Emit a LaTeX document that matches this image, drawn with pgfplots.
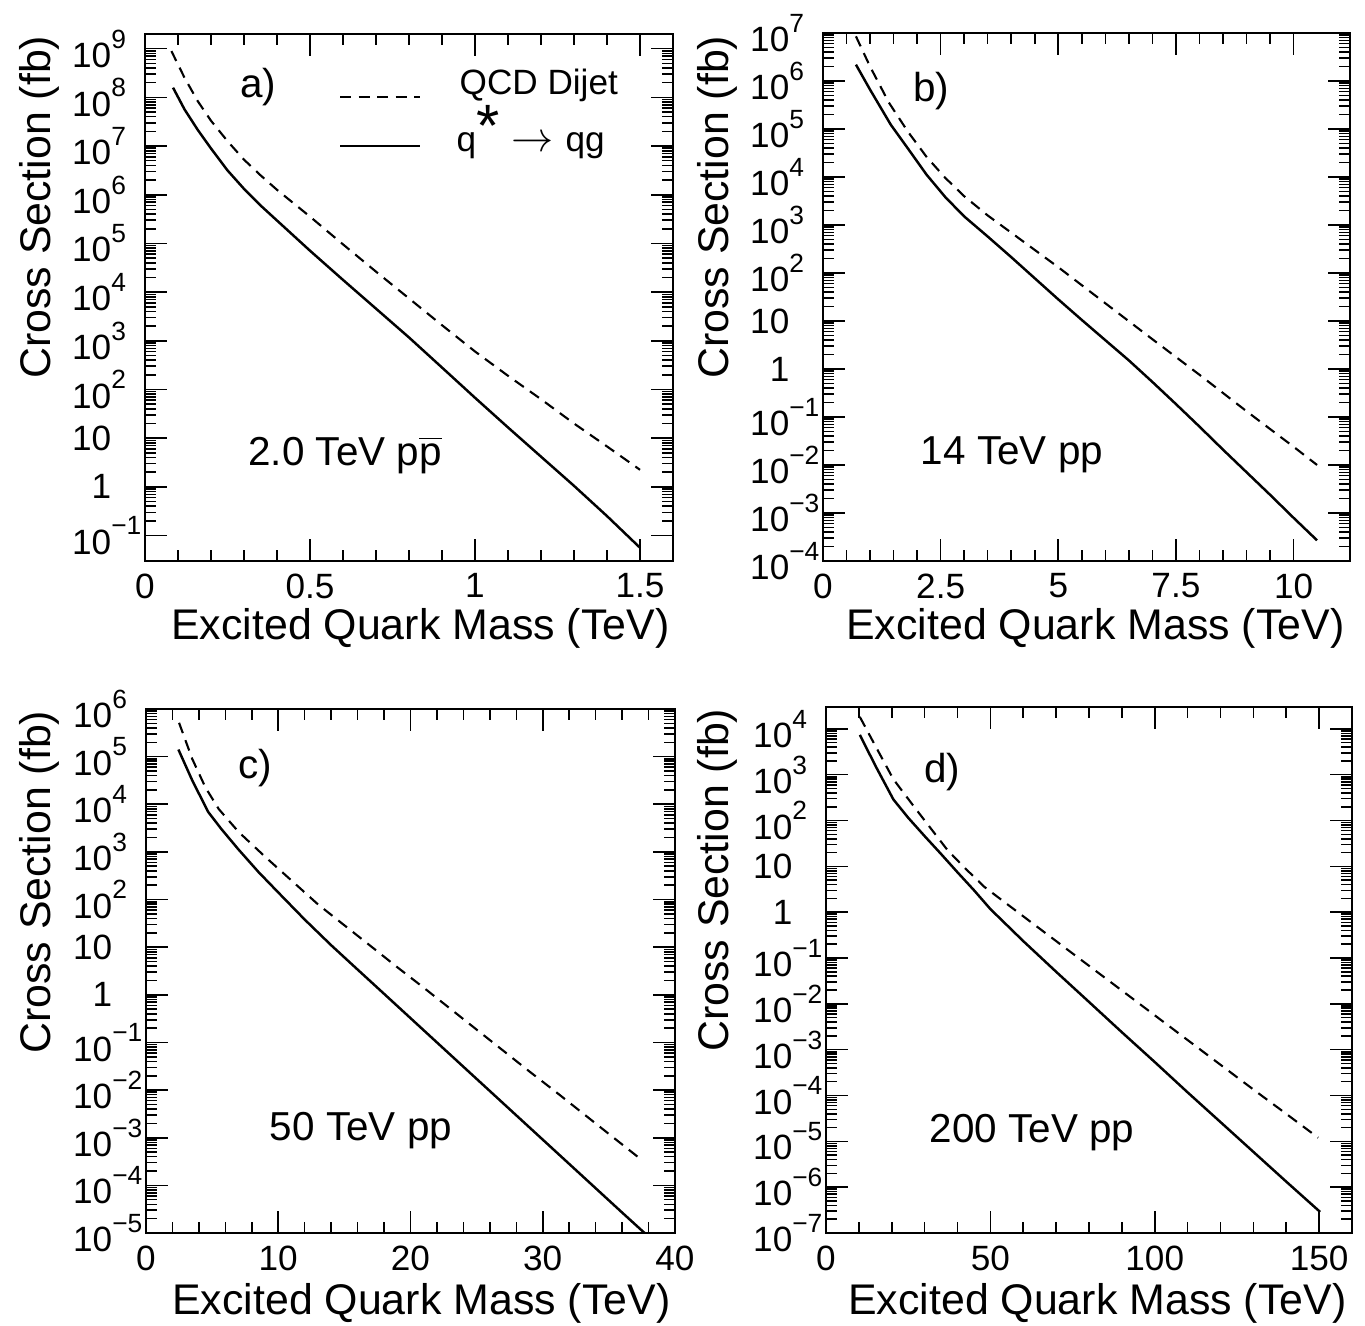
\documentclass[border=0pt]{standalone}
\usepackage{fontspec}
\setmainfont{Liberation Sans}
\usepackage{pgfplots}
\pgfplotsset{compat=1.18}

% 10^n label, superscript hangs to the right
\newcommand{\tp}[1]{10\rlap{\raisebox{0.55em}{\fontsize{7.5}{7.5}\selectfont #1}}}

\tikzset{
  qcd/.style={black, line width=0.6pt, dash pattern=on 0.11cm off 0.075cm},
  qs/.style={black, line width=0.7pt},
}
\pgfplotsset{
  panel/.style={
    scale only axis,
    axis line style={line width=0.75pt},
    every tick/.style={black, line width=0.45pt},
    tick align=inside,
    major tick length=0.22cm,
    minor tick length=0.11cm,
    minor x tick num=4,
    tick label style={font=\fontsize{10}{11}\selectfont},
    yticklabel style={anchor=east, inner sep=0pt, xshift=-0.33cm},
    xticklabel style={anchor=north, inner sep=0pt, yshift=-0.12cm},
  },
}

\begin{document}
\begin{tikzpicture}
\path[use as bounding box] (0,0) rectangle (13.65,-13.26);

% ---- a) 2.0 TeV ppbar
\begin{axis}[panel, ymode=log, anchor=north west, at={(1.45cm,-0.34cm)}, width=5.28cm, height=5.27cm,
  xmin=0, xmax=1.6, ymin=0.03, ymax=2e9,
  xtick={0,0.5,1,1.5}, xticklabels={0,0.5,1,1.5},
  ytick={1e-1,1,10,1e2,1e3,1e4,1e5,1e6,1e7,1e8,1e9},
  yticklabels={\tp{−1},1,10,\tp{2},\tp{3},\tp{4},\tp{5},\tp{6},\tp{7},\tp{8},\tp{9}}]
\addplot[qcd] coordinates {(0.08,8.91e8)(0.12,2.51e8)(0.16,8.32e7)(0.2,3.31e7)
  (0.25,1.26e7)(0.3,5.25e6)(0.35,2.51e6)(0.4,1.26e6)(0.5,3.55e5)(0.6,9.55e4)
  (0.7,2.63e4)(0.8,7.41e3)(0.9,2.09e3)(1.0,603)(1.1,191)(1.2,63.1)(1.3,20.0)
  (1.4,6.76)(1.5,2.24)};
\addplot[qs] coordinates {(0.085,1.58e8)(0.12,5.62e7)(0.16,2.14e7)(0.2,8.91e6)
  (0.25,3.16e6)(0.3,1.32e6)(0.35,6.03e5)(0.4,2.95e5)(0.5,7.08e4)(0.6,1.78e4)
  (0.7,4.57e3)(0.8,1.17e3)(0.9,282)(1.0,67.6)(1.1,16.6)(1.2,4.17)(1.3,1.05)
  (1.4,0.251)(1.5,0.0562)};
\end{axis}

% ---- b) 14 TeV pp
\begin{axis}[panel, ymode=log, anchor=north west, at={(8.23cm,-0.33cm)}, width=5.27cm, height=5.28cm,
  xmin=0, xmax=11.2, ymin=1e-4, ymax=1e7,
  xtick={0,2.5,5,7.5,10}, xticklabels={0,2.5,5,7.5,10},
  ytick={1e-4,1e-3,1e-2,1e-1,1,10,1e2,1e3,1e4,1e5,1e6,1e7},
  yticklabels={\tp{−4},\tp{−3},\tp{−2},\tp{−1},1,10,\tp{2},\tp{3},\tp{4},\tp{5},\tp{6},\tp{7}}]
\addplot[qcd] coordinates {(0.7,8.51e6)(1.0,2.0e6)(1.4,3.55e5)(1.8,8.91e4)
  (2.2,2.63e4)(2.6,9.55e3)(3.0,3.98e3)(3.5,1.58e3)(4.0,692)(4.5,302)(5.0,132)
  (6.0,23.4)(7.0,4.17)(8.0,0.759)(9.0,0.132)(10.0,0.0240)(10.5,0.0100)};
\addplot[qs] coordinates {(0.7,2.19e6)(1.0,6.61e5)(1.44,1.23e5)(1.8,3.98e4)
  (2.2,1.12e4)(2.6,3.80e3)(3.0,1.51e3)(3.5,575)(4.0,214)(4.5,77.6)(5.0,28.2)
  (5.5,10.5)(6.0,3.98)(6.5,1.51)(7.0,0.537)(7.5,0.186)(8.0,0.0631)(8.5,0.0209)
  (9.0,7.08e-3)(9.5,2.40e-3)(10.0,7.94e-4)(10.5,2.69e-4)};
\end{axis}

% ---- c) 50 TeV pp
\begin{axis}[panel, ymode=log, anchor=north west, at={(1.46cm,-7.09cm)}, width=5.29cm, height=5.24cm,
  xmin=0, xmax=40, ymin=1e-5, ymax=1e6,
  xtick={0,10,20,30,40}, xticklabels={0,10,20,30,40},
  ytick={1e-5,1e-4,1e-3,1e-2,1e-1,1,10,1e2,1e3,1e4,1e5,1e6},
  yticklabels={\tp{−5},\tp{−4},\tp{−3},\tp{−2},\tp{−1},1,10,\tp{2},\tp{3},\tp{4},\tp{5},\tp{6}}]
\addplot[qcd] coordinates {(2.5,5.13e5)(3.5,8.91e4)(4.5,2.24e4)(5.5,7.94e3)
  (7,2.63e3)(9,794)(11,251)(13,79.4)(15,28.8)(17,10.5)(19,3.80)(21,1.41)
  (23,0.513)(25,0.186)(27,0.0676)(29,0.0245)(31,9.12e-3)(33,3.31e-3)
  (35,1.20e-3)(37.5,3.39e-4)};
\addplot[qs] coordinates {(2.45,1.41e5)(3.5,3.16e4)(4.7,6.92e3)(5.7,3.02e3)
  (7,1.12e3)(8.5,380)(10,141)(12,38.0)(14,11.0)(16,3.39)(18,1.05)(20,0.324)
  (22,0.100)(24,0.0309)(26,9.55e-3)(28,2.95e-3)(30,9.12e-4)(32,2.82e-4)
  (34,8.71e-5)(36,2.69e-5)(37.7,1.0e-5)};
\end{axis}

% ---- d) 200 TeV pp
\begin{axis}[panel, ymode=log, anchor=north west, at={(8.26cm,-7.07cm)}, width=5.26cm, height=5.26cm,
  xmin=0, xmax=160, ymin=1e-7, ymax=3e4,
  xtick={0,50,100,150}, xticklabels={0,50,100,150},
  ytick={1e-7,1e-6,1e-5,1e-4,1e-3,1e-2,1e-1,1,10,1e2,1e3,1e4},
  yticklabels={\tp{−7},\tp{−6},\tp{−5},\tp{−4},\tp{−3},\tp{−2},\tp{−1},1,10,\tp{2},\tp{3},\tp{4}}]
\addplot[qcd] coordinates {(10.3,1.82e4)(15,4.27e3)(20.5,794)(26.7,204)
  (36.9,22.9)(42,9.55)(48.2,3.55)(60,0.813)(70,0.234)(80,0.0676)(90,0.0195)
  (100,5.62e-3)(110,1.62e-3)(120,4.68e-4)(130,1.35e-4)(140,3.98e-5)(149.7,1.20e-5)};
\addplot[qs] coordinates {(10.3,7.41e3)(15,1.58e3)(20.5,288)(25,115)(30,45.7)
  (35,18.6)(40,7.41)(45,3.02)(50,1.17)(60,0.234)(70,0.0501)(80,0.0110)
  (90,2.40e-3)(100,5.37e-4)(110,1.17e-4)(120,2.63e-5)(130,5.89e-6)
  (140,1.32e-6)(150.3,2.88e-7)};
\end{axis}

% ---- axis titles
\begin{scope}[every node/.style={font=\fontsize{12.2}{14}\selectfont, inner sep=0pt}]
\foreach \x/\y in {0.39/-0.35, 7.17/-0.35, 0.39/-7.10, 7.17/-7.08}
  \node[rotate=90, anchor=east] at (\x,\y) {Cross Section (fb)};
\foreach \x/\y in {6.70/-6.28, 13.45/-6.28, 6.71/-13.03, 13.47/-13.03}
  \node[anchor=east] at (\x,\y) {Excited Quark Mass (TeV)};
\end{scope}

% ---- panel texts
\begin{scope}[every node/.style={font=\fontsize{11.5}{13}\selectfont}]
\node at (2.58,-0.87) {a)};
\node at (9.31,-0.91) {b)};
\node at (2.55,-7.68) {c)};
\node at (9.42,-7.72) {d)};
\node at (3.45,-4.55) {2.0 TeV p$\overline{\hbox{p}}$};
\node at (10.12,-4.55) {14 TeV pp};
\node at (3.61,-11.31) {50 TeV pp};
\node at (10.32,-11.33) {200 TeV pp};
\end{scope}

% ---- legend of panel a
\draw[qcd] (3.40,-0.97) -- (4.20,-0.97);
\draw[qs] (3.40,-1.46) -- (4.20,-1.46);
\node[anchor=base west, font=\fontsize{10}{12}\selectfont, inner sep=0pt] at (4.59,-0.95) {QCD Dijet};
\node[anchor=base west, font=\fontsize{10}{12}\selectfont, inner sep=0pt] at (4.56,-1.52)
  {q\smash{\raisebox{0.15em}{\fontsize{17}{17}\selectfont *}}\hspace{0.12cm}{\fontsize{13}{13}\selectfont$\rightarrow$}\hspace{0.12cm}qg};
\end{tikzpicture}
\end{document}
